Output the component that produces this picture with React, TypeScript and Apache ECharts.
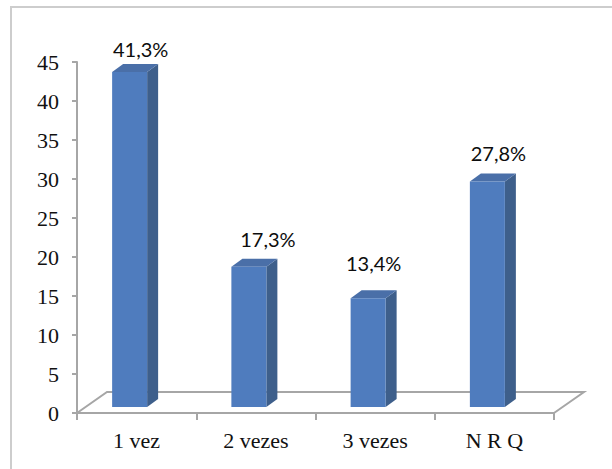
import React, { useEffect, useRef } from "react";
import * as echarts from "echarts";

// Response categories and the share of answers for each one (%)
const categories = ["1 vez", "2 vezes", "3 vezes", "N R Q"];
const percentages = [41.3, 17.3, 13.4, 27.8];
const axisMin = 0;
const axisMax = 45;
const axisStep = 5;

// Layout of the plot frame (px)
const WIDTH = 612;
const HEIGHT = 469;
const AX_LEFT = 77;
const AX_RIGHT = 554;
const AX_TOP = 62;
const AX_BOTTOM = 413;
// Floor depth (perspective offset of the back edge)
const FLOOR_DX = 30;
const FLOOR_DY = 21;
// Bars stand a little into the floor and use a slightly stretched plane
const BAR_BASE = 407;
const BAR_PX_PER_UNIT = 8.11;
const FACE_SHIFT = -24.5;
const FACE_W = 35;
const SIDE_DX = 11;
const SIDE_DY = 8;
// Per-bar placement of the value labels, relative to the bar's top back edge
const LABEL_NUDGE: [number, number][] = [
  [4, -15.5],
  [12, -20],
  [-1.5, -27],
  [4, -21],
];

const FRONT = "#4f7cbe";
const SIDE = "#3e5f8b";
const TOP = "#4a6fa8";
const AXIS_GREY = "#a6a6a6";

const fmt = (v: number) => v.toFixed(1).replace(".", ",") + "%";

export default function App() {
  const ref = useRef<HTMLDivElement>(null);

  useEffect(() => {
    if (!ref.current) return;
    const chart = echarts.init(ref.current, null, { renderer: "svg" });

    const barTop = BAR_BASE - axisMax * BAR_PX_PER_UNIT;

    chart.setOption({
      animation: false,
      backgroundColor: "#ffffff",
      grid: [
        {
          left: AX_LEFT,
          right: WIDTH - AX_RIGHT,
          top: AX_TOP,
          bottom: HEIGHT - AX_BOTTOM,
        },
        {
          left: AX_LEFT,
          right: WIDTH - AX_RIGHT,
          top: barTop,
          bottom: HEIGHT - BAR_BASE,
        },
      ],
      xAxis: [
        {
          type: "category",
          gridIndex: 0,
          data: categories,
          boundaryGap: true,
          axisLine: { show: true, lineStyle: { color: AXIS_GREY, width: 2 } },
          axisTick: {
            show: true,
            interval: 0,
            length: 7,
            lineStyle: { color: AXIS_GREY, width: 2 },
          },
          axisLabel: {
            margin: 16,
            fontFamily: "Liberation Serif",
            fontSize: 22,
            color: "#111",
          },
          splitLine: { show: false },
        },
        {
          type: "category",
          gridIndex: 1,
          data: categories,
          boundaryGap: true,
          show: false,
        },
      ],
      yAxis: [
        {
          type: "value",
          gridIndex: 0,
          min: axisMin,
          max: axisMax,
          interval: axisStep,
          axisLine: { show: true, lineStyle: { color: AXIS_GREY, width: 2 } },
          axisTick: {
            show: true,
            length: 5,
            lineStyle: { color: AXIS_GREY, width: 2 },
          },
          axisLabel: {
            margin: 18,
            fontFamily: "Liberation Serif",
            fontSize: 22,
            color: "#111",
          },
          splitLine: { show: false },
        },
        {
          type: "value",
          gridIndex: 1,
          min: axisMin,
          max: axisMax,
          show: false,
          splitLine: { show: false },
        },
      ],
      graphic: [
        {
          type: "rect",
          z: 0,
          silent: true,
          shape: { x: 11, y: 7, width: 700, height: 600 },
          style: { fill: "none", stroke: "#cdcdcd", lineWidth: 2 },
        },
        {
          type: "polyline",
          z: 0,
          silent: true,
          shape: {
            points: [
              [AX_LEFT, AX_BOTTOM],
              [AX_LEFT + FLOOR_DX, AX_BOTTOM - FLOOR_DY],
              [AX_RIGHT + FLOOR_DX, AX_BOTTOM - FLOOR_DY],
              [AX_RIGHT, AX_BOTTOM],
            ],
          },
          style: { fill: "none", stroke: AXIS_GREY, lineWidth: 2 },
        },
      ],
      series: [
        {
          type: "custom",
          xAxisIndex: 1,
          yAxisIndex: 1,
          z: 5,
          data: percentages.map((v, i) => [i, v]),
          renderItem: (params: any, api: any) => {
            const i = api.value(0);
            const v = api.value(1);
            const base = api.coord([i, 0]);
            const top = api.coord([i, v]);
            const cx = base[0];
            const x0 = cx + FACE_SHIFT;
            const x1 = x0 + FACE_W;
            const yb = base[1];
            const yt = top[1];
            const [ndx, ndy] = LABEL_NUDGE[params.dataIndex] || [4, -18];
            return {
              type: "group",
              children: [
                {
                  type: "polygon",
                  shape: {
                    points: [
                      [x1, yb],
                      [x1 + SIDE_DX, yb - SIDE_DY],
                      [x1 + SIDE_DX, yt - SIDE_DY],
                      [x1, yt],
                    ],
                  },
                  style: { fill: SIDE },
                },
                {
                  type: "polygon",
                  shape: {
                    points: [
                      [x0, yt],
                      [x1, yt],
                      [x1 + SIDE_DX, yt - SIDE_DY],
                      [x0 + SIDE_DX, yt - SIDE_DY],
                    ],
                  },
                  style: { fill: TOP },
                },
                {
                  type: "rect",
                  shape: { x: x0, y: yt, width: FACE_W, height: yb - yt },
                  style: { fill: FRONT },
                },
                {
                  type: "text",
                  x: cx + ndx,
                  y: yt - SIDE_DY + ndy,
                  style: {
                    text: fmt(v),
                    fontFamily: "Lato",
                    fontSize: 20,
                    fill: "#0d0d0d",
                    textAlign: "center",
                    textVerticalAlign: "middle",
                  },
                },
              ],
            };
          },
        },
      ],
    });

    return () => chart.dispose();
  }, []);

  return (
    <div
      ref={ref}
      style={{
        position: "fixed",
        left: 0,
        top: 0,
        width: WIDTH,
        height: HEIGHT,
        background: "#fff",
      }}
    />
  );
}
